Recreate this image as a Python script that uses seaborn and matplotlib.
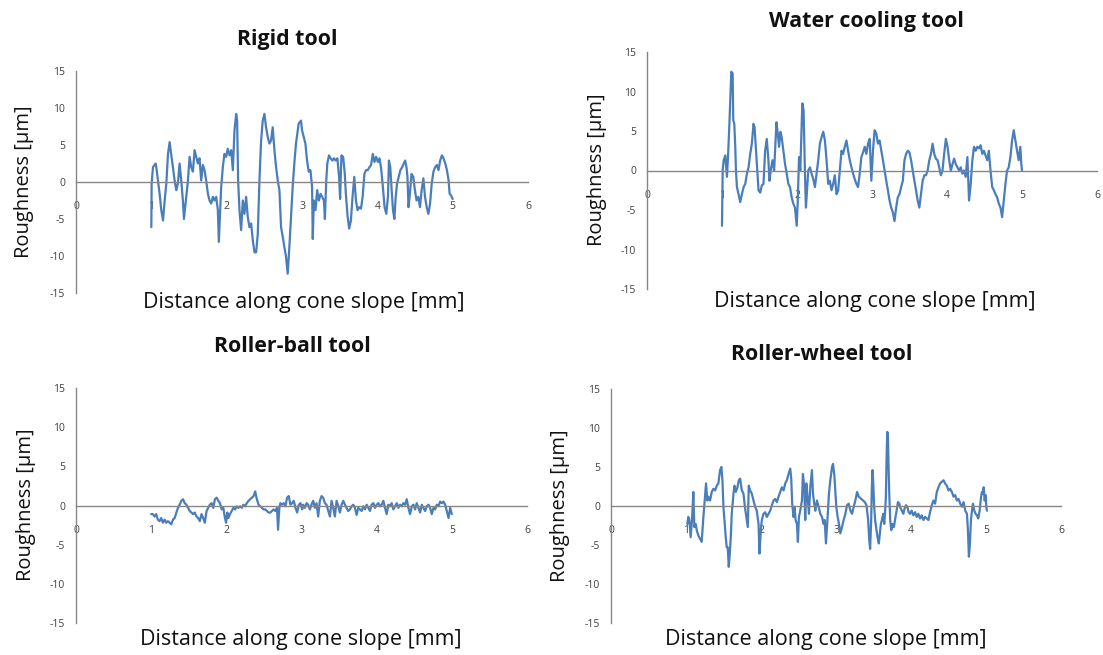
import numpy as np
import pandas as pd
import seaborn as sns
import matplotlib
matplotlib.use("Agg")
import matplotlib.pyplot as plt

# ---------------- data ----------------
titles = ["Rigid tool", "Water cooling tool", "Roller-ball tool", "Roller-wheel tool"]
xlabel_text = "Distance along cone slope [mm]"
ylabel_text = "Roughness [\u00b5m]"
x_ticks = [0, 1, 2, 3, 4, 5, 6]
y_ticks = [-15, -10, -5, 0, 5, 10, 15]

rigid_x = [1.000, 1.004, 1.022, 1.044, 1.057, 1.066, 1.088, 1.110, 1.132, 1.155, 1.177, 1.199, 1.221, 1.243,
           1.265, 1.287, 1.309, 1.331, 1.353, 1.375, 1.397, 1.419, 1.433, 1.464, 1.486, 1.508, 1.530, 1.552,
           1.574, 1.596, 1.618, 1.640, 1.662, 1.684, 1.706, 1.728, 1.751, 1.773, 1.795, 1.817, 1.839, 1.861,
           1.883, 1.896, 1.914, 1.927, 1.949, 1.971, 1.993, 2.015, 2.038, 2.060, 2.082, 2.104, 2.126, 2.139,
           2.152, 2.170, 2.192, 2.214, 2.236, 2.258, 2.280, 2.302, 2.325, 2.347, 2.369, 2.391, 2.413, 2.435,
           2.457, 2.479, 2.501, 2.523, 2.545, 2.567, 2.589, 2.611, 2.634, 2.656, 2.678, 2.700, 2.722, 2.744,
           2.766, 2.788, 2.810, 2.832, 2.854, 2.876, 2.898, 2.920, 2.956, 2.987, 3.000, 3.045, 3.067, 3.089,
           3.112, 3.134, 3.143, 3.157, 3.179, 3.201, 3.224, 3.246, 3.268, 3.291, 3.304, 3.322, 3.336, 3.358,
           3.380, 3.403, 3.425, 3.447, 3.470, 3.492, 3.506, 3.523, 3.546, 3.568, 3.582, 3.604, 3.626, 3.649,
           3.671, 3.694, 3.716, 3.738, 3.761, 3.783, 3.805, 3.828, 3.850, 3.872, 3.895, 3.917, 3.940, 3.962,
           3.984, 4.007, 4.029, 4.051, 4.074, 4.096, 4.119, 4.141, 4.154, 4.172, 4.190, 4.208, 4.226, 4.244,
           4.262, 4.284, 4.306, 4.329, 4.351, 4.369, 4.387, 4.400, 4.414, 4.432, 4.454, 4.477, 4.499, 4.521,
           4.544, 4.566, 4.588, 4.611, 4.633, 4.655, 4.678, 4.700, 4.722, 4.745, 4.767, 4.790, 4.812, 4.834,
           4.857, 4.879, 4.902, 4.924, 4.946, 4.960, 4.978, 5.000]
rigid_y = [-6.1, -0.2, 2.0, 2.3, 2.5, 2.0, 0.2, -1.6, -3.8, -5.2, -2.5, -0.2, 3.8, 5.4,
           3.6, 2.0, 0.2, -1.1, -0.2, 2.5, 0.2, -2.5, -5.0, -2.0, 0.2, 3.4, 2.0, 1.4,
           4.3, 3.4, 2.5, 3.2, 0.2, 2.3, 1.6, 0.2, -1.6, -2.5, -2.9, -2.0, -2.5, -2.0,
           -3.8, -8.1, -3.8, -0.7, 2.0, 3.8, 3.4, 4.5, 3.6, 4.3, 1.6, 7.0, 9.2, 8.3,
           0.2, -3.8, -6.5, -2.5, -4.3, -2.0, -4.7, -6.1, -5.6, -7.9, -9.5, -9.5, -7.0, 0.2,
           5.6, 8.3, 9.2, 7.4, 6.1, 5.2, 5.6, 7.4, 4.3, 2.0, 0.2, -1.1, -6.1, -7.4,
           -8.8, -10.1, -12.4, -8.8, -4.7, -0.7, 2.5, 5.2, 7.9, 8.3, 7.0, 5.2, 2.9, 1.4,
           1.6, -0.7, -7.7, -2.5, -3.8, -1.1, -2.5, -1.6, -2.0, -2.5, -5.0, 0.2, 2.5, 3.6,
           3.2, 2.9, 3.2, 2.9, 3.2, 0.7, -2.3, 3.6, 3.4, 1.1, -1.6, -4.5, -6.3, -5.2,
           -2.0, 0.7, -2.5, -3.8, -3.4, -3.6, -2.0, 1.1, 1.6, 1.6, 2.0, 2.3, 3.8, 2.7,
           3.4, 2.7, 3.2, 1.8, -0.7, -3.4, -4.3, -2.0, 2.9, 2.0, -1.1, -3.8, -5.0, -2.0,
           -0.2, 0.7, 1.6, 2.0, 2.5, 2.9, 2.0, 0.7, -3.4, -1.6, 1.1, 0.7, -1.1, -2.5,
           -2.0, -3.4, -1.1, 0.5, -2.0, -3.4, -4.3, -2.9, -0.2, 1.4, 2.0, 2.3, 1.6, 2.9,
           3.6, 3.2, 2.5, 1.6, 0.2, -1.6, -1.8, -2.3]

water_x = [1.000, 1.009, 1.022, 1.044, 1.066, 1.080, 1.097, 1.115, 1.124, 1.142, 1.150, 1.164, 1.177, 1.186,
           1.199, 1.221, 1.243, 1.265, 1.288, 1.310, 1.332, 1.354, 1.376, 1.398, 1.420, 1.434, 1.451, 1.469,
           1.487, 1.509, 1.531, 1.553, 1.575, 1.597, 1.619, 1.633, 1.650, 1.673, 1.695, 1.708, 1.726, 1.743,
           1.761, 1.779, 1.796, 1.819, 1.841, 1.863, 1.885, 1.907, 1.929, 1.951, 1.973, 1.996, 2.009, 2.027,
           2.044, 2.071, 2.088, 2.106, 2.119, 2.150, 2.173, 2.195, 2.217, 2.239, 2.261, 2.283, 2.305, 2.327,
           2.350, 2.372, 2.394, 2.416, 2.438, 2.460, 2.482, 2.504, 2.527, 2.549, 2.571, 2.593, 2.615, 2.637,
           2.659, 2.681, 2.704, 2.726, 2.748, 2.770, 2.792, 2.814, 2.836, 2.858, 2.881, 2.903, 2.925, 2.947,
           2.969, 2.991, 3.013, 3.035, 3.057, 3.079, 3.102, 3.124, 3.146, 3.168, 3.190, 3.212, 3.234, 3.256,
           3.278, 3.300, 3.322, 3.344, 3.366, 3.389, 3.411, 3.433, 3.455, 3.477, 3.499, 3.521, 3.543, 3.565,
           3.587, 3.609, 3.631, 3.653, 3.675, 3.698, 3.720, 3.742, 3.764, 3.786, 3.808, 3.830, 3.852, 3.874,
           3.896, 3.918, 3.940, 3.962, 3.985, 4.007, 4.029, 4.051, 4.073, 4.095, 4.117, 4.139, 4.161, 4.183,
           4.205, 4.227, 4.249, 4.272, 4.294, 4.316, 4.338, 4.360, 4.382, 4.404, 4.426, 4.448, 4.470, 4.492,
           4.514, 4.536, 4.558, 4.580, 4.603, 4.625, 4.647, 4.669, 4.691, 4.713, 4.735, 4.757, 4.779, 4.801,
           4.823, 4.845, 4.868, 4.890, 4.912, 4.934, 4.956, 4.978, 4.991, 5.000]
water_y = [-7.0, 0.0, 1.3, 1.9, -0.8, 1.7, 5.5, 10.2, 12.5, 12.3, 6.4, 5.9, 3.0, 0.0,
           -2.1, -3.0, -4.0, -3.0, -2.1, -1.7, -0.4, 0.4, 2.1, 3.4, 5.9, 5.5, 3.0, 0.4,
           -2.5, -2.8, -1.9, -1.7, 2.5, 4.0, 1.3, -1.3, 0.0, 1.3, 0.0, 2.5, 6.1, 4.7,
           3.0, 4.9, 4.2, 2.5, 0.8, -0.4, -1.7, -2.1, -3.4, -4.2, -4.7, -7.0, -4.2, 1.7,
           0.0, 8.5, 7.6, -0.4, -4.7, 0.0, 0.4, -0.4, -1.1, -2.1, -0.4, 1.3, 3.4, 4.2,
           4.9, 3.8, 1.3, -1.7, -1.3, -2.5, -1.7, -0.6, -3.0, -2.5, 0.0, 2.5, 2.1, 3.0,
           3.8, 2.5, 1.3, 0.4, -0.4, -1.1, -1.7, -2.1, -0.4, 1.7, 2.3, 3.0, 2.1, 3.4,
           4.0, -1.3, 2.5, 5.1, 4.7, 3.4, 3.8, 2.5, 1.3, 0.0, -1.3, -2.5, -3.8, -4.7,
           -5.3, -6.4, -4.7, -3.4, -3.0, -2.1, -1.3, 1.3, 2.1, 2.5, 2.3, 1.3, 0.0, -1.3,
           -2.5, -3.8, -4.7, -3.0, -1.3, -0.6, -0.6, 0.0, 1.3, 2.1, 3.4, 2.1, 1.5, 1.3,
           0.4, -0.6, 0.0, 2.1, 4.0, 3.0, 1.3, 0.0, 0.8, 1.5, 0.8, 0.4, 0.0, 0.4,
           -0.4, 0.0, -0.8, 1.7, -3.8, -1.7, 1.3, 3.0, 2.5, 3.0, 2.8, 3.2, 2.1, 2.5,
           1.9, 1.3, 2.5, 0.0, -2.1, -2.5, -3.0, -3.4, -4.2, -4.7, -5.9, -3.8, -1.7, 0.0,
           0.4, 1.7, 3.8, 5.1, 3.8, 2.5, 1.3, 3.0, 0.8, 0.0]

ball_x = [1.000, 1.022, 1.045, 1.067, 1.089, 1.112, 1.134, 1.156, 1.179, 1.201, 1.223, 1.246, 1.268, 1.290,
          1.313, 1.335, 1.357, 1.379, 1.402, 1.424, 1.446, 1.469, 1.491, 1.513, 1.536, 1.558, 1.580, 1.603,
          1.625, 1.647, 1.670, 1.692, 1.714, 1.737, 1.759, 1.781, 1.804, 1.826, 1.848, 1.871, 1.893, 1.915,
          1.938, 1.960, 1.982, 1.996, 2.013, 2.027, 2.049, 2.071, 2.094, 2.116, 2.138, 2.161, 2.183, 2.205,
          2.228, 2.250, 2.272, 2.295, 2.317, 2.339, 2.362, 2.384, 2.406, 2.429, 2.451, 2.473, 2.496, 2.518,
          2.540, 2.563, 2.585, 2.607, 2.629, 2.652, 2.674, 2.688, 2.705, 2.719, 2.741, 2.763, 2.786, 2.808,
          2.830, 2.853, 2.875, 2.897, 2.920, 2.942, 2.964, 2.987, 3.009, 3.022, 3.044, 3.067, 3.089, 3.111,
          3.133, 3.156, 3.178, 3.200, 3.222, 3.244, 3.267, 3.289, 3.311, 3.333, 3.356, 3.378, 3.400, 3.422,
          3.444, 3.467, 3.489, 3.511, 3.533, 3.556, 3.578, 3.600, 3.622, 3.644, 3.667, 3.689, 3.711, 3.733,
          3.756, 3.778, 3.800, 3.822, 3.844, 3.867, 3.889, 3.911, 3.933, 3.956, 3.978, 4.000, 4.022, 4.044,
          4.067, 4.089, 4.111, 4.133, 4.156, 4.178, 4.200, 4.222, 4.244, 4.267, 4.289, 4.311, 4.333, 4.356,
          4.378, 4.400, 4.422, 4.444, 4.467, 4.489, 4.511, 4.533, 4.556, 4.578, 4.600, 4.622, 4.644, 4.667,
          4.689, 4.711, 4.733, 4.756, 4.778, 4.800, 4.822, 4.844, 4.867, 4.889, 4.911, 4.933, 4.956, 4.978,
          5.000]
ball_y = [-1.1, -1.1, -1.4, -1.1, -1.8, -2.0, -1.6, -2.2, -1.8, -2.2, -2.0, -2.2, -2.4, -1.8,
          -1.6, -0.9, -0.3, 0.1, 0.6, 0.8, 0.3, 0.1, -0.3, -0.7, -0.9, -1.1, -0.9, -1.4,
          -1.6, -2.0, -1.1, -1.6, -2.2, -0.7, -0.3, 0.1, 0.3, -0.3, 0.8, 1.0, 0.6, 0.3,
          -0.5, -0.3, -1.6, -2.2, -0.9, -1.6, -1.1, -0.7, -0.3, -0.5, -0.1, -0.3, -0.1, -0.3,
          0.1, -0.1, 0.3, 0.6, 0.8, 1.0, 1.2, 1.8, 0.8, 0.1, -0.1, -0.3, -0.5, -0.5,
          -0.7, -0.9, -0.9, -0.7, -0.5, -0.7, -0.3, -3.1, -0.3, 0.3, 0.1, 0.3, -0.1, 1.0,
          1.2, 0.1, 0.3, 0.6, -0.3, -0.9, 0.1, 0.3, -0.5, 0.1, -0.3, 0.3, 0.1, -0.5,
          0.1, 0.6, -0.3, 0.3, -1.4, 0.6, 1.2, 1.0, 0.3, 0.1, -0.7, -1.4, 0.6, -0.3,
          -1.4, 0.6, -0.1, -0.9, 0.1, 0.6, 0.1, -0.3, -0.7, -0.5, -0.1, 0.1, -0.3, -1.2,
          -0.3, -0.5, -0.7, -0.1, -0.5, 0.1, -0.3, -0.7, 0.1, 0.3, -0.3, 0.1, 0.3, -0.1,
          0.1, 0.6, -0.3, -1.1, 0.1, -0.1, 0.3, -0.5, -0.1, 0.3, -0.3, 0.1, -0.1, 0.3,
          0.1, 0.8, -0.3, -1.1, -0.1, 0.1, -0.5, 0.3, -0.3, -0.9, 0.1, -0.3, -0.7, -0.1,
          0.1, -0.3, -1.1, -0.3, -0.5, 0.1, -0.1, 0.5, 0.3, 0.5, 0.1, -0.7, -1.6, -0.3,
          -1.1]

wheel_x = [1.018, 1.031, 1.045, 1.062, 1.080, 1.098, 1.111, 1.129, 1.143, 1.165, 1.187, 1.209, 1.232, 1.254,
           1.267, 1.285, 1.298, 1.321, 1.343, 1.365, 1.388, 1.410, 1.432, 1.454, 1.472, 1.486, 1.499, 1.512,
           1.530, 1.543, 1.557, 1.570, 1.584, 1.597, 1.610, 1.633, 1.646, 1.664, 1.686, 1.704, 1.722, 1.744,
           1.766, 1.788, 1.811, 1.824, 1.837, 1.855, 1.877, 1.900, 1.922, 1.944, 1.967, 1.980, 1.998, 2.011,
           2.033, 2.056, 2.078, 2.100, 2.123, 2.145, 2.167, 2.189, 2.212, 2.234, 2.256, 2.278, 2.301, 2.323,
           2.345, 2.367, 2.390, 2.403, 2.416, 2.434, 2.448, 2.461, 2.479, 2.492, 2.506, 2.523, 2.546, 2.559,
           2.577, 2.590, 2.604, 2.621, 2.639, 2.657, 2.679, 2.693, 2.710, 2.724, 2.746, 2.768, 2.791, 2.813,
           2.835, 2.849, 2.866, 2.880, 2.893, 2.906, 2.924, 2.947, 2.960, 2.978, 2.991, 3.004, 3.022, 3.040,
           3.058, 3.080, 3.102, 3.125, 3.147, 3.169, 3.192, 3.214, 3.236, 3.258, 3.281, 3.303, 3.362, 3.384,
           3.406, 3.429, 3.442, 3.455, 3.469, 3.478, 3.487, 3.496, 3.509, 3.522, 3.540, 3.554, 3.571, 3.585,
           3.598, 3.612, 3.629, 3.643, 3.656, 3.665, 3.674, 3.683, 3.692, 3.701, 3.710, 3.723, 3.737, 3.754,
           3.772, 3.790, 3.808, 3.826, 3.844, 3.862, 3.879, 3.897, 3.915, 3.933, 3.951, 3.969, 3.987, 4.009,
           4.031, 4.054, 4.076, 4.098, 4.121, 4.143, 4.165, 4.188, 4.210, 4.232, 4.254, 4.277, 4.299, 4.321,
           4.344, 4.366, 4.388, 4.411, 4.433, 4.455, 4.478, 4.500, 4.522, 4.545, 4.567, 4.589, 4.612, 4.634,
           4.656, 4.679, 4.701, 4.723, 4.746, 4.759, 4.772, 4.786, 4.799, 4.813, 4.826, 4.844, 4.862, 4.879,
           4.897, 4.915, 4.933, 4.946, 4.960, 4.969, 4.982, 4.996, 5.004, 5.013]
wheel_y = [-2.3, -1.4, -1.8, -4.0, -1.8, 1.8, -2.7, -2.3, -3.1, -3.8, -4.2, -4.6, -1.4, 1.2,
           2.9, 0.7, 1.2, 0.7, 1.8, 2.2, 2.0, 2.6, 2.9, 4.6, 5.0, 3.3, -0.1, -1.8,
           -4.0, -5.3, -5.3, -7.8, -6.1, -4.0, -1.0, 1.6, 2.6, 1.8, 2.4, 3.3, 3.5, 2.0,
           1.6, -0.3, -1.8, -2.7, 2.6, 2.0, 1.6, 0.7, -0.1, -0.6, -2.3, -6.1, -3.1, -1.8,
           -1.0, -0.8, -1.4, -1.0, -0.6, 0.1, 0.7, 0.9, 0.5, 1.2, 1.8, 2.4, 2.0, 2.9,
           3.3, 4.1, 4.8, 3.5, 0.3, -1.4, -0.1, -1.8, -2.3, -4.6, -1.4, -0.6, 0.7, 4.1,
           2.4, -1.8, 2.9, 1.2, -1.0, 2.4, 4.6, 1.6, 0.3, -0.6, 0.7, -0.1, -1.0, -1.4,
           -2.3, -1.8, -4.8, -2.7, -0.6, 1.6, 3.3, 5.0, 5.4, 3.9, 2.0, -0.1, -1.4, -2.3,
           -3.5, -2.7, -1.8, -1.0, 0.1, 0.3, -0.6, -1.0, -0.1, 0.7, 1.8, 1.2, 0.7, 0.5,
           0.1, -1.8, -4.2, -5.5, -1.8, 2.4, 4.6, 3.1, -0.1, -1.8, -3.1, -4.0, -4.8, -3.5,
           -2.3, -1.8, -1.0, -2.3, -0.6, 1.2, 5.9, 9.5, 9.3, 5.0, 1.6, -1.8, -3.1, -2.3,
           -2.7, -1.6, -0.6, 0.5, 0.3, -0.3, -0.6, -1.0, -0.3, 0.1, -0.1, -0.8, -1.0, -0.6,
           -1.2, -0.8, -1.4, -1.0, -1.6, -1.2, -1.8, -1.4, -1.6, -1.8, -0.8, 0.1, 0.7, 0.3,
           1.8, 2.4, 2.9, 3.1, 3.3, 2.9, 2.6, 2.0, 2.2, 1.8, 1.2, 1.4, 0.7, 0.9,
           0.3, -0.1, 0.5, -0.6, -1.0, -3.1, -6.5, -4.8, -1.8, -0.6, 0.3, -0.6, -1.0, -1.2,
           -1.6, -0.6, 1.1, 1.8, 1.6, 2.4, 0.7, 1.4, -0.1, -0.6]

series = [(rigid_x, rigid_y), (water_x, water_y), (ball_x, ball_y), (wheel_x, wheel_y)]

# ---------------- style ----------------
sns.set_theme(style="white")
plt.rcParams["font.family"] = ["Open Sans", "DejaVu Sans"]

W, H = 1103, 655
fig = plt.figure(figsize=(W / 100, H / 100), dpi=100)

# pixel boxes: (left, right, top, bottom) of plotting areas
boxes = [(76, 528, 71, 293), (647, 1097, 52, 289), (76, 527, 388, 623), (611, 1061, 389, 623)]
# centres of title / x-label / y-label in pixels
title_pos = [(287, 40), (866, 21), (292, 347), (822, 355)]
xlab_pos = [(304, 302), (875, 302), (301, 640), (826, 640)]
ylab_pos = [(24, 182), (597, 170), (26, 505), (560, 506)]

line_color = "#4A7EBB"
axis_color = "#868686"
tick_text = "#404040"

for i, (xs, ys) in enumerate(series):
    l, r, t, b = boxes[i]
    ax = fig.add_axes([l / W, 1 - b / H, (r - l) / W, (b - t) / H])
    df = pd.DataFrame({"x": xs, "y": ys})
    sns.lineplot(data=df, x="x", y="y", ax=ax, color=line_color, linewidth=1.6,
                 estimator=None, sort=False)
    ax.set_xlim(0, 6)
    ax.set_ylim(-15, 15)
    ax.set_xticks(x_ticks)
    ax.set_yticks(y_ticks)
    ax.set_xticklabels([str(v) for v in x_ticks])
    ax.set_yticklabels([str(v) for v in y_ticks])
    for s in ["top", "right"]:
        ax.spines[s].set_visible(False)
    ax.spines["bottom"].set_position(("data", 0))
    for s in ["left", "bottom"]:
        ax.spines[s].set_color(axis_color)
        ax.spines[s].set_linewidth(1.0)
    ax.tick_params(axis="both", which="major", direction="out", length=4, width=1,
                   color=axis_color, labelsize=7.5, labelcolor=tick_text)
    ax.tick_params(axis="x", pad=10)
    ax.tick_params(axis="y", pad=4)
    ax.grid(False)

    ax.set_xlabel(xlabel_text, fontsize=15.5, color="#111111")
    ax.set_ylabel(ylabel_text, fontsize=14.5, color="#111111")
    xl, yl = xlab_pos[i]
    ax.xaxis.set_label_coords((xl - l) / (r - l), (b - yl) / (b - t))
    ax.xaxis.label.set(va="center", ha="center")
    xl, yl = ylab_pos[i]
    ax.yaxis.set_label_coords((xl - l) / (r - l), (b - yl) / (b - t))
    ax.yaxis.label.set(va="center", ha="center", rotation_mode="anchor")

    tx, ty = title_pos[i]
    ax.set_title(titles[i], fontsize=15.4, fontweight="bold", color="#111111",
                 x=(tx - l) / (r - l), y=(b - ty) / (b - t), va="center", ha="center", pad=0)

fig.savefig("out.png", dpi=100)
